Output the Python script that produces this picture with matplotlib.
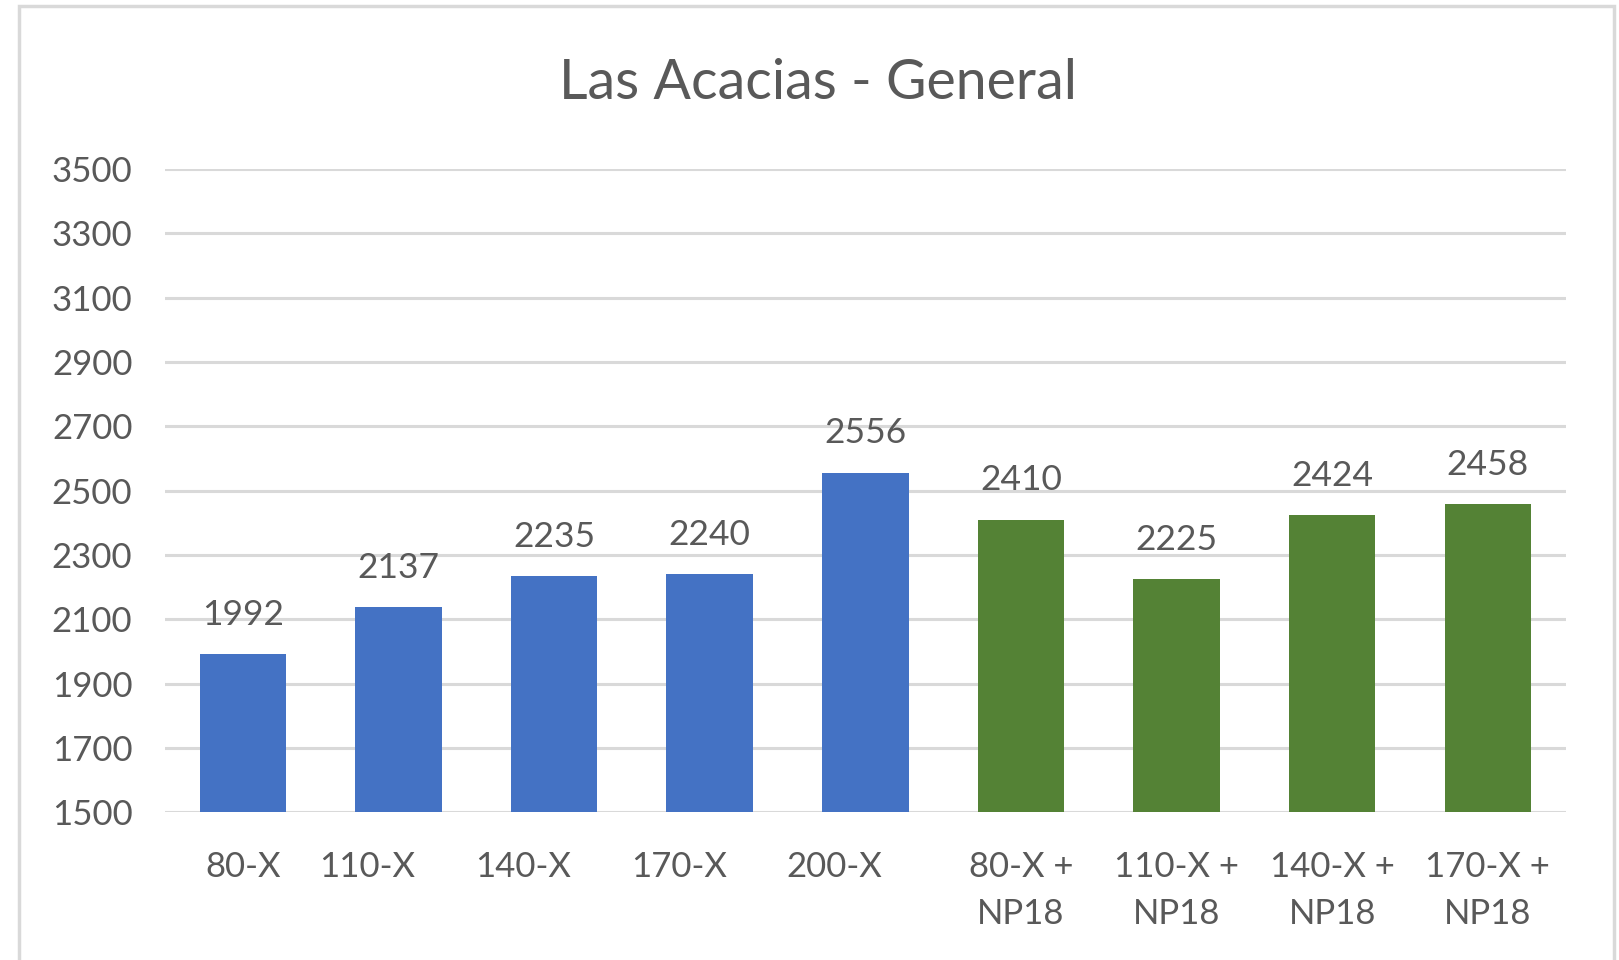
import matplotlib.pyplot as plt
from matplotlib.patches import Rectangle
from matplotlib.transforms import ScaledTranslation

categories = ['80-X', '110-X', '140-X', '170-X', '200-X',
              '80-X +\nNP18', '110-X +\nNP18', '140-X +\nNP18', '170-X +\nNP18']
values = [1992, 2137, 2235, 2240, 2556, 2410, 2225, 2424, 2458]
groups = ['X', 'X', 'X', 'X', 'X', 'NP18', 'NP18', 'NP18', 'NP18']

group_colors = {'X': '#4472C4', 'NP18': '#548235'}
text_color = '#595959'
grid_color = '#D9D9D9'

plt.rcParams['font.family'] = ['Lato', 'DejaVu Sans']

fig = plt.figure(figsize=(16.19, 9.6), dpi=100)
ax = fig.add_axes([0.102, 0.154, 0.865, 0.670])

# chart frame (bottom edge runs off the image)
fig.patches.append(Rectangle((0.0117, -0.02), 0.9852, 1.0138,
                             transform=fig.transFigure, fill=False,
                             edgecolor=grid_color, linewidth=2.5))

x = range(len(categories))
ax.bar(x, [v - 1500 for v in values], bottom=1500, width=0.556,
       color=[group_colors[g] for g in groups], zorder=3)

for xi, v in zip(x, values):
    ax.annotate(str(v), (xi, v), xytext=(0, 21), textcoords='offset points',
                ha='center', va='baseline', fontsize=25.5, color=text_color)

ax.set_xlim(-0.5, len(categories) - 0.5)
ax.set_ylim(1500, 3500)
ax.set_yticks(range(1500, 3501, 200))
ax.set_xticks(list(x))
ax.set_xticklabels(categories, linespacing=1.59)
ax.tick_params(axis='both', length=0, labelsize=25, labelcolor=text_color)
ax.tick_params(axis='y', pad=23.5)
ax.tick_params(axis='x', pad=28)
ax.grid(axis='y', color=grid_color, linewidth=2.2, zorder=0)
for s in ax.spines.values():
    s.set_visible(False)

# the single-line labels after the first sit a bit left of their bars
shift = ScaledTranslation(-0.31, 0, fig.dpi_scale_trans)
for lbl in ax.get_xticklabels()[1:5]:
    lbl.set_transform(lbl.get_transform() + shift)

fig.text(0.505, 0.913, 'Las Acacias - General', ha='center', va='center',
         fontsize=40, color=text_color)

fig.savefig('out.png', dpi=100)
